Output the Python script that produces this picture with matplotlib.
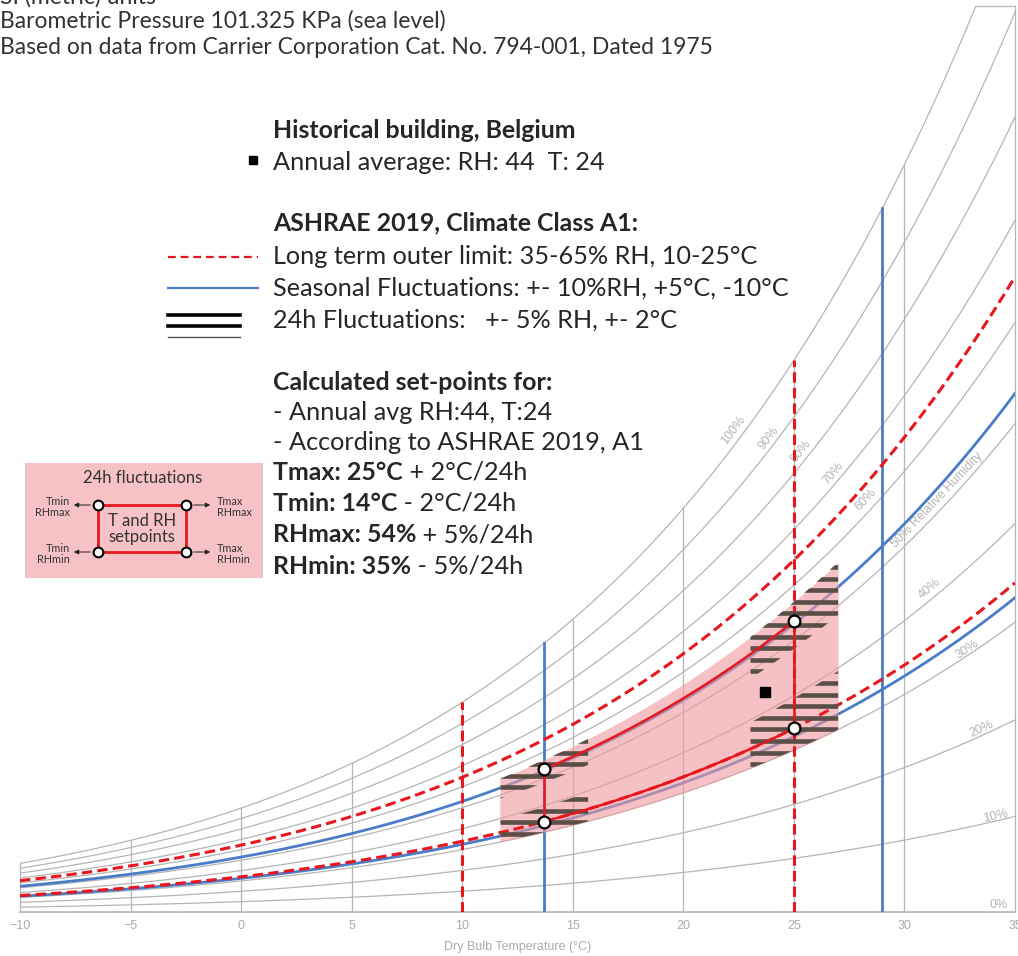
import numpy as np
import matplotlib
matplotlib.use('Agg')
import matplotlib.pyplot as plt
from matplotlib.lines import Line2D
from matplotlib.patches import Rectangle, Polygon, FancyArrowPatch
from matplotlib.collections import LineCollection

# ---------------- data ----------------
P_ATM = 101.325                     # kPa
T_MIN, T_MAX = -10, 35              # dry bulb range (degC)
W_TOP = 0.0329                      # humidity ratio at chart top (kg/kg)
dry_bulb_ticks = [-10, -5, 0, 5, 10, 15, 20, 25, 30, 35]
rh_levels = [10, 20, 30, 40, 50, 60, 70, 80, 90, 100]
rh_label_text = ['10%', '20%', '30%', '40%', '50% Relative Humidity',
                 '60%', '70%', '80%', '90%', '100%']
long_term_rh = [34, 64.5]           # ASHRAE long term outer limit (as drawn)
long_term_t = [10, 25]
seasonal_rh = [32.5, 53]            # seasonal fluctuation limits (as drawn)
seasonal_t = [13.7, 29]
setpoint_t = [13.7, 25]             # calculated set-points (as drawn)
setpoint_rh = [34, 53.5]
fluct_t = [11.7, 27.0]              # 24h fluctuation envelope
fluct_rh = [30, 57]
hatch_t_ranges = [(11.7, 15.7), (23.0, 27.0)]
hatch_rh_ranges = [(30, 39.5), (48.5, 57)]
annual_avg_t = 23.7
annual_avg_rh = 44

# ---------------- helpers ----------------
def psat(t):
    t = np.asarray(t, dtype=float)
    return 0.61094 * np.exp(17.625 * t / (t + 243.04))

def w_of(t, rh):
    pv = np.asarray(rh) / 100.0 * psat(t)
    return 0.622 * pv / (P_ATM - pv)

W_PX, H_PX = 1018, 956
AX_L, AX_R, AX_T, AX_B = 20, 1015, 6, 912
fig = plt.figure(figsize=(W_PX / 100, H_PX / 100), dpi=100)
ax = fig.add_axes([AX_L / W_PX, (H_PX - AX_B) / H_PX, (AX_R - AX_L) / W_PX,
                   (AX_B - AX_T) / H_PX])
ax.set_xlim(T_MIN, T_MAX)
ax.set_ylim(0, W_TOP)
for s in ax.spines.values():
    s.set_visible(False)
ax.set_yticks([])
ax.set_xticks(dry_bulb_ticks)
ax.set_xticklabels([('\u2212%d' % -t) if t < 0 else str(t) for t in dry_bulb_ticks],
                   family='Liberation Sans', fontsize=9, color='#ababab')
ax.tick_params(axis='x', length=0, pad=6)
ax.set_xlabel('Dry Bulb Temperature (\u00b0C)', family='Liberation Sans', fontsize=9,
              color='#ababab', labelpad=6)

sx = (AX_R - AX_L) / (T_MAX - T_MIN)
sy = (AX_B - AX_T) / W_TOP

def px2data(px, py):
    return T_MIN + (px - AX_L) / sx, (AX_B - py) / sy

GRAY = '#b5b5b5'
RED = '#e8161e'
BLUE = '#4a7cc8'
T = np.linspace(T_MIN, T_MAX, 900)

# RH curves
for rh in rh_levels:
    ax.plot(T, w_of(T, rh), color=GRAY, lw=0.9, zorder=1)
# dry bulb verticals
for t in dry_bulb_ticks:
    ax.plot([t, t], [0, min(float(w_of(t, 100)), W_TOP)], color=GRAY, lw=0.9,
            zorder=1, clip_on=False)
t_top = float(np.interp(W_TOP, w_of(T, 100), T))
ax.plot([T_MIN, T_MAX], [0, 0], color=GRAY, lw=1.2, zorder=1, clip_on=False)
ax.plot([t_top, T_MAX], [W_TOP, W_TOP], color=GRAY, lw=0.9, zorder=1, clip_on=False)

# RH labels (pixel positions)
rh_label_px = [(996, 816), (982, 729), (967, 650), (930, 589), (937, 500),
               (866, 500), (833, 473), (801, 451), (769, 438), (733, 430)]
for rh, lab, (lx, ly) in zip(rh_levels, rh_label_text, rh_label_px):
    tl, wl = px2data(lx, ly)
    d = (w_of(tl + 0.05, rh) - w_of(tl - 0.05, rh)) / 0.1
    ang = np.degrees(np.arctan(d * sy / sx))
    ax.text(tl, wl, lab, rotation=ang, rotation_mode='anchor', ha='center',
            va='center', family='Liberation Sans', fontsize=9, color='#b4b4b4', zorder=1)
t0, w0 = px2data(999, 905)
ax.text(t0, w0, '0%', ha='center', va='center', family='Liberation Sans',
        fontsize=9, color='#b4b4b4')

# seasonal (blue)
for rh in seasonal_rh:
    ax.plot(T, w_of(T, rh), color=BLUE, lw=2.0, zorder=2)
for t in seasonal_t:
    ax.plot([t, t], [0, float(w_of(t, 100))], color=BLUE, lw=2.0, zorder=2)

# 24h fluctuation envelope (pink)
Tf = np.linspace(fluct_t[0], fluct_t[1], 200)
ax.fill_between(Tf, w_of(Tf, fluct_rh[0]), w_of(Tf, fluct_rh[1]),
                color='#f0999f', alpha=0.6, lw=0, zorder=3)

# long term outer limit (red dashed)
for rh in long_term_rh:
    ax.plot(T, w_of(T, rh), color=RED, lw=2.2, dashes=(3.4, 1.7), zorder=4)
for t in long_term_t:
    ax.plot([t, t], [0, float(w_of(t, 100))], color=RED, lw=2.2, dashes=(3.4, 1.7),
            zorder=4)

# hatch stripes (24h fluctuations)
step = 11.6 / sy
ys = np.arange(px2data(0, 567)[1], 0, -step)
for (ta, tb) in hatch_t_ranges:
    for (r0, r1) in hatch_rh_ranges:
        tt = np.linspace(ta, tb, 60)
        verts = np.column_stack([np.r_[tt, tt[::-1]],
                                 np.r_[w_of(tt, r0), w_of(tt[::-1], r1)]])
        poly = Polygon(verts, closed=True, transform=ax.transData)
        segs = [[(ta, y), (tb, y)] for y in ys]
        lc = LineCollection(segs, colors='#5a4e46', linewidths=3.3, zorder=5)
        ax.add_collection(lc)
        lc.set_clip_path(poly)

# set-point box (red solid)
Ts = np.linspace(setpoint_t[0], setpoint_t[1], 200)
for rh in setpoint_rh:
    ax.plot(Ts, w_of(Ts, rh), color=RED, lw=1.8, zorder=6)
for t in setpoint_t:
    ax.plot([t, t], [float(w_of(t, setpoint_rh[0])), float(w_of(t, setpoint_rh[1]))],
            color=RED, lw=1.8, zorder=6)
for t in setpoint_t:
    for rh in setpoint_rh:
        ax.plot([t], [float(w_of(t, rh))], 'o', ms=8.5, mfc='white', mec='black',
                mew=1.6, zorder=7)

# annual average
ax.plot([annual_avg_t], [float(w_of(annual_avg_t, annual_avg_rh))], 's', ms=6.5,
        color='black', zorder=7)

# ---------------- texts ----------------
FONT = 'Lato'
TXT = '#262626'

def fx(px):
    return px / W_PX

def fy(py):
    return 1 - py / H_PX

def ftext(px, py, s, **kw):
    kw.setdefault('family', FONT)
    kw.setdefault('color', TXT)
    return fig.text(fx(px), fy(py), s, va='center', **kw)

fig.canvas.draw()
renderer = fig.canvas.get_renderer()

def fit_size(s, target_px, weight='normal', base=14.0):
    t = fig.text(0, 0, s, family=FONT, fontsize=base, weight=weight)
    w = t.get_window_extent(renderer).width
    t.remove()
    return base * target_px / w

HFS = fit_size('Based on data from Carrier Corporation Cat. No. 794-001, Dated 1975', 713)
LFS = fit_size('Seasonal Fluctuations: +- 10%RH, +5\u00b0C, -10\u00b0C', 517)
BFS = fit_size('ASHRAE 2019, Climate Class A1:', 367, weight='bold')

ftext(0, -3, 'SI (metric) units', fontsize=HFS, color='#333333')
ftext(0, 21, 'Barometric Pressure 101.325 KPa (sea level)', fontsize=HFS, color='#333333')
ftext(0, 48, 'Based on data from Carrier Corporation Cat. No. 794-001, Dated 1975',
      fontsize=HFS, color='#333333')

LX = 273
ftext(LX, 130, 'Historical building, Belgium', fontsize=BFS, weight='bold')
ftext(LX, 162, 'Annual average: RH: 44  T: 24', fontsize=LFS)
ftext(LX, 223, 'ASHRAE 2019, Climate Class A1:', fontsize=BFS, weight='bold')
ftext(LX, 256, 'Long term outer limit: 35-65% RH, 10-25\u00b0C', fontsize=LFS)
ftext(LX, 288, 'Seasonal Fluctuations: +- 10%RH, +5\u00b0C, -10\u00b0C', fontsize=LFS)
ftext(LX, 320, '24h Fluctuations:   +- 5% RH, +- 2\u00b0C', fontsize=LFS)
ftext(LX, 383, 'Calculated set-points for:', fontsize=BFS, weight='bold')
ftext(LX, 413, '- Annual avg RH:44, T:24', fontsize=LFS)
ftext(LX, 443, '- According to ASHRAE 2019, A1', fontsize=LFS)

mixed = [(472, 'Tmax: 25\u00b0C', ' + 2\u00b0C/24h'),
         (503, 'Tmin: 14\u00b0C', ' - 2\u00b0C/24h'),
         (535, 'RHmax: 54%', ' + 5%/24h'),
         (566, 'RHmin: 35%', ' - 5%/24h')]
for py, b, n in mixed:
    tb = ftext(LX, py, b, fontsize=BFS, weight='bold')
    bb = tb.get_window_extent(renderer)
    fig.text(bb.x1 / fig.bbox.width, fy(py), n, va='center', family=FONT, color=TXT,
             fontsize=LFS)

# legend symbols
fig.add_artist(Line2D([fx(253)], [fy(160)], marker='s', ms=6, color='black',
                      transform=fig.transFigure))
fig.add_artist(Line2D([fx(168), fx(258)], [fy(257), fy(257)], color=RED, lw=1.6,
                      dashes=(3.5, 2.2), transform=fig.transFigure))
fig.add_artist(Line2D([fx(168), fx(258)], [fy(288), fy(288)], color=BLUE, lw=1.6,
                      transform=fig.transFigure))
fig.add_artist(Line2D([fx(168), fx(240)], [fy(315), fy(315)], color='black', lw=2.6,
                      transform=fig.transFigure))
fig.add_artist(Line2D([fx(168), fx(240)], [fy(326), fy(326)], color='black', lw=2.6,
                      transform=fig.transFigure))
fig.add_artist(Line2D([fx(168), fx(240)], [fy(337), fy(337)], color='#555555', lw=1.0,
                      transform=fig.transFigure))

# inset explanation box
fig.add_artist(Rectangle((fx(25), fy(578)), fx(263) - fx(25), fy(463) - fy(578),
                         facecolor='#f6c2c6', edgecolor='none', transform=fig.transFigure))
ftext(143, 478, '24h fluctuations', fontsize=12, ha='center', color='#333333')
bx0, bx1, by0, by1 = 98, 186, 505, 552
fig.add_artist(Line2D([fx(bx0), fx(bx1), fx(bx1), fx(bx0), fx(bx0)],
                      [fy(by0), fy(by0), fy(by1), fy(by1), fy(by0)], color=RED, lw=2.0,
                      transform=fig.transFigure))
for (cx, cy) in [(bx0, by0), (bx1, by0), (bx0, by1), (bx1, by1)]:
    d = -1 if cx == bx0 else 1
    fig.add_artist(FancyArrowPatch(
        (fx(cx + d * 5), fy(cy)), (fx(cx + d * 27), fy(cy)), arrowstyle='-|>',
        mutation_scale=7, color='#222222', lw=0.7, transform=fig.transFigure))
    fig.add_artist(Line2D([fx(cx)], [fy(cy)], marker='o', ms=7, mfc='white', mec='black',
                          mew=1.5, transform=fig.transFigure))
ftext(70, 507, 'Tmin\nRHmax', fontsize=7.8, ha='right', linespacing=1.1, color='#333333')
ftext(70, 554, 'Tmin\nRHmin', fontsize=7.8, ha='right', linespacing=1.1, color='#333333')
ftext(217, 507, 'Tmax\nRHmax', fontsize=7.8, ha='left', linespacing=1.1, color='#333333')
ftext(217, 554, 'Tmax\nRHmin', fontsize=7.8, ha='left', linespacing=1.1, color='#333333')
ftext(142, 529, 'T and RH\nsetpoints', fontsize=12, ha='center', linespacing=1.0,
      color='#333333')

fig.savefig('out.png', dpi=100)
